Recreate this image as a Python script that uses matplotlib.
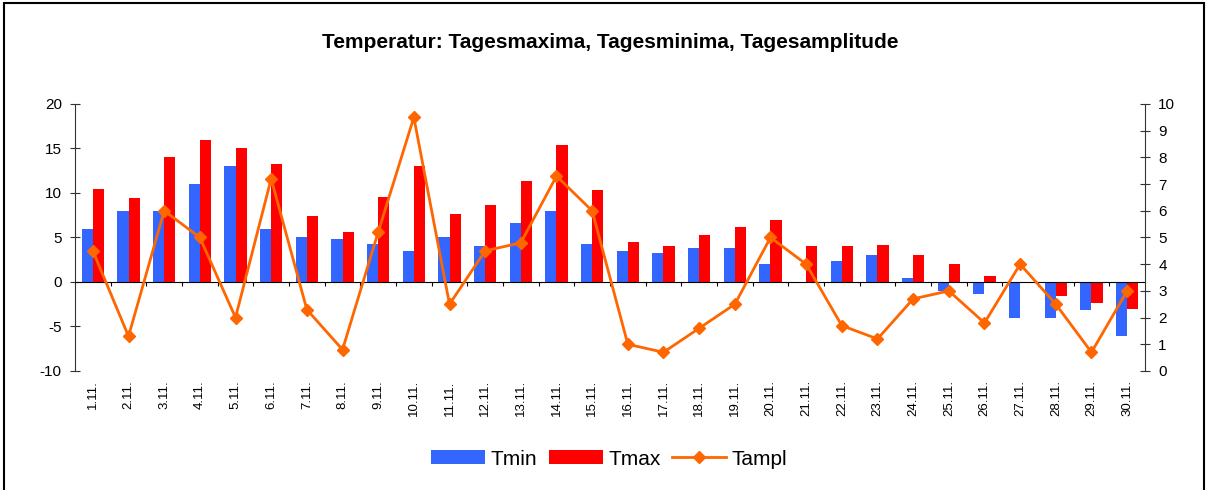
import matplotlib
matplotlib.use("Agg")
import matplotlib.pyplot as plt
import numpy as np
from matplotlib.patches import Rectangle

plt.rcParams['font.family'] = ['Liberation Sans', 'DejaVu Sans']
plt.rcParams['axes.unicode_minus'] = False

#%% data
days = ['%d.11.' % d for d in range(1, 31)]
tmin = [6.0, 8.0, 8.0, 11.0, 13.0, 6.0, 5.0, 4.8, 4.3, 3.5,
        5.0, 4.0, 6.6, 8.0, 4.3, 3.5, 3.3, 3.8, 3.8, 2.0,
        0.0, 2.4, 3.0, 0.4, -1.0, -1.4, -4.1, -4.1, -3.1, -6.1]
tmax = [10.5, 9.4, 14.0, 16.0, 15.0, 13.2, 7.4, 5.6, 9.5, 13.0,
        7.6, 8.6, 11.3, 15.4, 10.3, 4.5, 4.0, 5.3, 6.2, 7.0,
        4.0, 4.0, 4.2, 3.0, 2.0, 0.7, 0.0, -1.6, -2.4, -3.0]
tampl = [4.5, 1.3, 6.0, 5.0, 2.0, 7.2, 2.3, 0.8, 5.2, 9.5,
         2.5, 4.5, 4.8, 7.3, 6.0, 1.0, 0.7, 1.6, 2.5, 5.0,
         4.0, 1.7, 1.2, 2.7, 3.0, 1.8, 4.0, 2.5, 0.7, 3.0]

x = np.arange(len(days))
w = 0.31

#%% figure
fig = plt.figure(figsize=(12.06, 4.90), dpi=100)
ax = fig.add_axes([0.0622, 0.2429, 0.8872, 0.5449])
ax2 = ax.twinx()

ax.bar(x - w/2, tmin, w, color='#3366FF', label='Tmin')
ax.bar(x + w/2, tmax, w, color='#FF0000', label='Tmax')
ax2.plot(x, tampl, color='#FF6600', lw=2.0, marker='D', ms=6.5,
         label='Tampl')

ax.set_xlim(-0.5, len(days) - 0.5)
ax.set_ylim(-10, 20)
ax.set_yticks(np.arange(-10, 21, 5))
ax2.set_ylim(0, 10)
ax2.set_yticks(np.arange(0, 11, 1))

# x axis sits on zero, ticks between the days
ax.spines['bottom'].set_position(('data', 0))
ax.set_xticks(x[:-1] + 0.5)
ax.tick_params(axis='x', direction='out', length=3, labelbottom=False,
               color='black')
for xi, d in zip(x, days):
    ax.text(xi, -0.035, d, transform=ax.get_xaxis_transform(),
            rotation=90, ha='center', va='top', fontsize=9.5)

for a in (ax, ax2):
    a.spines['top'].set_visible(False)
    a.tick_params(axis='y', direction='inout', length=7, pad=6,
                  labelsize=11, color='#333333')
ax.spines['right'].set_visible(False)
ax2.spines['left'].set_visible(False)
ax2.spines['bottom'].set_visible(False)
ax.spines['left'].set_color('#333333')
ax2.spines['right'].set_color('#333333')

fig.text(0.506, 0.914, 'Temperatur: Tagesmaxima, Tagesminima, Tagesamplitude',
         ha='center', va='center', fontsize=15, fontweight='bold')

h1, l1 = ax.get_legend_handles_labels()
h2, l2 = ax2.get_legend_handles_labels()
fig.legend(h1 + h2, l1 + l2, loc='center', bbox_to_anchor=(0.505, 0.063),
           ncol=3, frameon=False, fontsize=15, handlelength=2.6,
           handleheight=0.67, handletextpad=0.25, columnspacing=0.55)

# outer frame of the chart object
fig.add_artist(Rectangle((0.0033, -0.05), 0.995, 1.0439, transform=fig.transFigure,
                         fill=False, edgecolor='black', lw=1.5, clip_on=False))

fig.savefig('out.png', dpi=100)
